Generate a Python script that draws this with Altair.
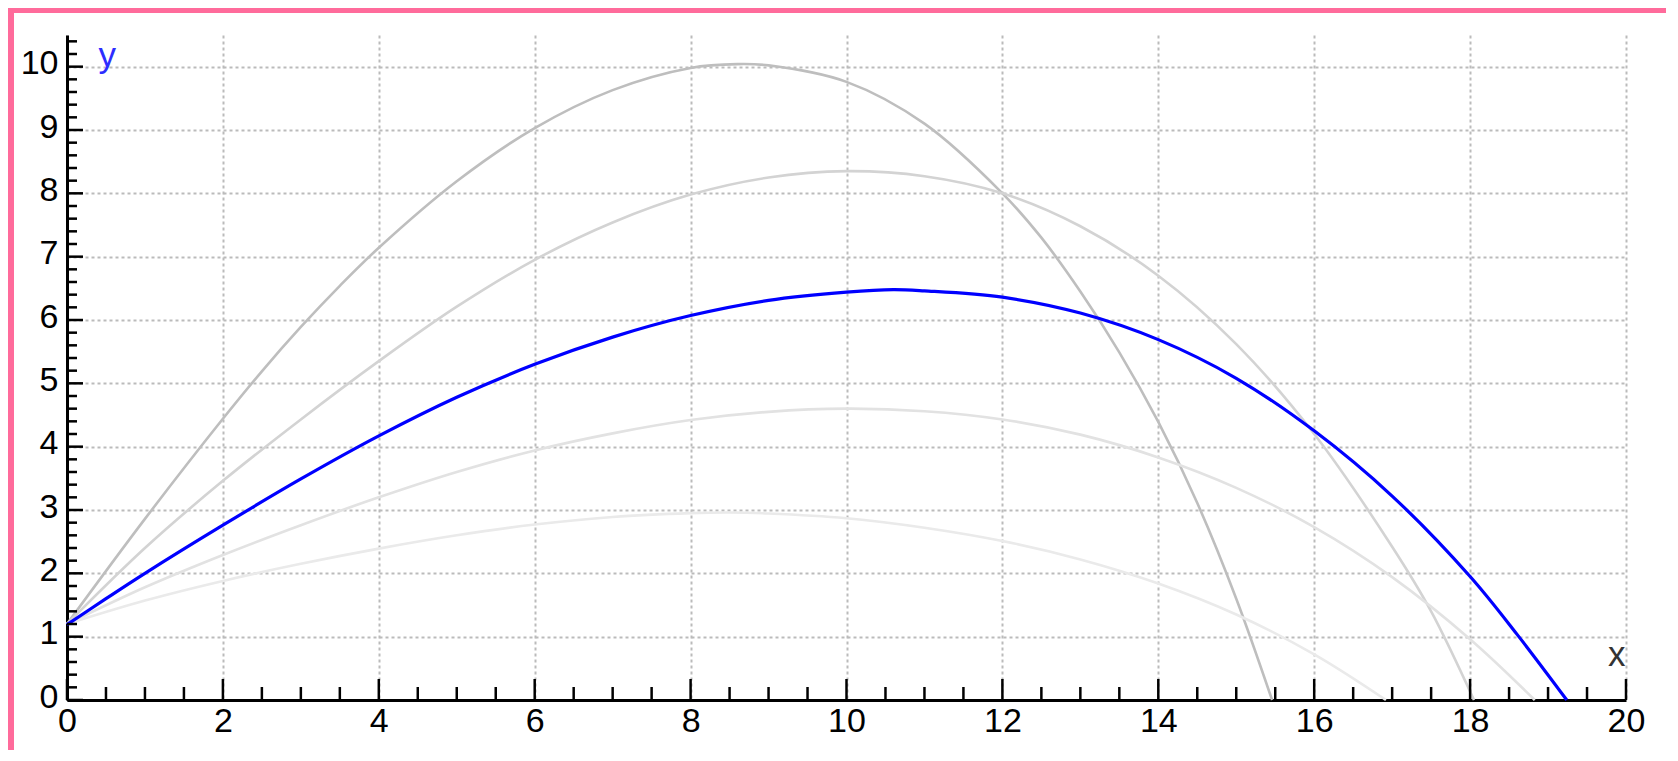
import altair as alt
import pandas as pd

# ---- trajectories ----
a_x = [0, 1, 2, 2.5, 3, 3.5, 4, 5, 6, 7, 8, 8.6, 9, 10, 11, 12, 12.5, 13, 13.5, 14, 14.5, 15, 15.46]
a_y = [1.2, 2.86, 4.44, 5.19, 5.89, 6.54, 7.14, 8.19, 9.03, 9.63, 9.98, 10.04, 10.02, 9.76, 9.1, 8.0, 7.3, 6.45, 5.49, 4.39, 3.11, 1.6, 0]

b_x = [0, 1, 2, 3, 4, 5, 6, 7, 8, 9, 10, 11, 12, 13, 14, 15, 16, 17, 17.5, 18.05]
b_y = [1.2, 2.4, 3.46, 4.43, 5.35, 6.21, 6.95, 7.54, 7.98, 8.25, 8.35, 8.27, 8.0, 7.48, 6.70, 5.62, 4.20, 2.42, 1.40, 0]

c_x = [0, 0.5, 1, 2, 3, 4, 5, 6, 7, 8, 9, 10, 10.6, 11, 12, 13, 14, 15, 16, 17, 18, 18.6, 19.24]
c_y = [1.19, 1.60, 2.0, 2.76, 3.49, 4.17, 4.78, 5.30, 5.73, 6.07, 6.31, 6.44, 6.48, 6.46, 6.36, 6.11, 5.69, 5.08, 4.25, 3.22, 1.95, 1.04, 0]

d_x = [0, 1, 2, 3, 4, 5, 6, 7, 8, 9, 10, 11, 12, 13, 14, 15, 16, 17, 18, 18.83]
d_y = [1.2, 1.78, 2.29, 2.76, 3.20, 3.60, 3.94, 4.21, 4.42, 4.55, 4.60, 4.56, 4.43, 4.19, 3.83, 3.35, 2.73, 1.94, 0.96, 0]

e_x = [0, 1, 2, 3, 4, 5, 6, 7, 8, 8.5, 9, 10, 11, 12, 13, 14, 15, 16, 16.92]
e_y = [1.2, 1.57, 1.88, 2.15, 2.39, 2.60, 2.77, 2.89, 2.95, 2.96, 2.945, 2.87, 2.72, 2.51, 2.22, 1.84, 1.35, 0.72, 0]

gray_names = ["a", "b", "d", "e"]
gray_colors = ["#bebebe", "#d3d3d3", "#e2e2e2", "#eaeaea"]

# tick values / labels
x_major = [0, 2, 4, 6, 8, 10, 12, 14, 16, 18, 20]
y_major = [0, 1, 2, 3, 4, 5, 6, 7, 8, 9, 10]
x_minor = [v / 2 for v in range(1, 40) if v % 4 != 0]
y_minor = [round(k * 0.2, 1) for k in range(1, 53) if k % 5 != 0]

rows = []
for name, xs, ys in [("a", a_x, a_y), ("b", b_x, b_y), ("d", d_x, d_y), ("e", e_x, e_y)]:
    for i, (x, y) in enumerate(zip(xs, ys)):
        rows.append({"curve": name, "x": x, "y": y, "i": i})
gray_df = pd.DataFrame(rows)
blue_df = pd.DataFrame({"x": c_x, "y": c_y, "i": list(range(len(c_x)))})

W, H = 1559, 665
FONT = "Liberation Sans"

xscale = alt.Scale(domain=[0, 20], nice=False, zero=False)
yscale = alt.Scale(domain=[0, 10.5], nice=False, zero=False)

xaxis = alt.Axis(
    values=x_major, format="d", title="x", grid=True,
    gridDash=[3, 3], gridColor="#bbbbbb", gridWidth=2,
    domainColor="black", domainWidth=3, ticks=True, tickSize=0, tickWidth=0,
    labelFont=FONT, labelFontSize=34, labelColor="black", labelPadding=4,
    labelFlush=False, labelOverlap=False, labelBaseline="top",
    titleFont=FONT, titleFontSize=35, titleFontWeight="normal", titleColor="#333333",
    titleX=W - 1, titleY=-35, titleAlign="right", titleBaseline="alphabetic", titleAnchor="end",
)
yaxis = alt.Axis(
    values=y_major, format="d", title="y", grid=True,
    gridDash=[3, 3], gridColor="#bbbbbb", gridWidth=2,
    domainColor="black", domainWidth=3, ticks=True, tickSize=0, tickWidth=0,
    labelFont=FONT, labelFontSize=34, labelColor="black", labelPadding=9,
    labelOffset=-3, labelFlush=False, labelOverlap=False, labelBaseline="middle",
    titleFont=FONT, titleFontSize=35, titleFontWeight="normal", titleColor="#2d2dff",
    titleX=31, titleY=31, titleAngle=0, titleAlign="left", titleBaseline="alphabetic",
)

grays = alt.Chart(gray_df).mark_line(interpolate="catmull-rom", strokeWidth=2.6).encode(
    x=alt.X("x:Q", scale=xscale, axis=xaxis),
    y=alt.Y("y:Q", scale=yscale, axis=yaxis),
    color=alt.Color("curve:N", scale=alt.Scale(domain=gray_names, range=gray_colors), legend=None),
    order="i:Q",
)

blue = alt.Chart(blue_df).mark_line(interpolate="catmull-rom", strokeWidth=3.2, color="#0000ff").encode(
    x=alt.X("x:Q", scale=xscale, axis=xaxis),
    y=alt.Y("y:Q", scale=yscale, axis=yaxis),
    order="i:Q",
)

xmaj = alt.Chart(pd.DataFrame({"x": x_major})).mark_rule(color="black", strokeWidth=2.5).encode(
    x=alt.X("x:Q", scale=xscale, axis=xaxis), y=alt.value(H), y2=alt.value(H - 21))
xmin = alt.Chart(pd.DataFrame({"x": x_minor})).mark_rule(color="black", strokeWidth=2.5).encode(
    x=alt.X("x:Q", scale=xscale, axis=xaxis), y=alt.value(H), y2=alt.value(H - 13))
ymaj = alt.Chart(pd.DataFrame({"y": y_major})).mark_rule(color="black", strokeWidth=2.5).encode(
    y=alt.Y("y:Q", scale=yscale, axis=yaxis), x=alt.value(0), x2=alt.value(16))
ymin = alt.Chart(pd.DataFrame({"y": y_minor})).mark_rule(color="black", strokeWidth=2.5).encode(
    y=alt.Y("y:Q", scale=yscale, axis=yaxis), x=alt.value(0), x2=alt.value(10))

PL, PT, PR, PB = 59, 27, 40, 50
frame = pd.DataFrame({"k": [0]})
pink_left = alt.Chart(frame).mark_rect(color="#ff6b9b").encode(
    x=alt.value(-PL), x2=alt.value(-PL + 6), y=alt.value(-PT), y2=alt.value(H + PB))
pink_top = alt.Chart(frame).mark_rect(color="#ff6b9b").encode(
    x=alt.value(-PL), x2=alt.value(W + PR), y=alt.value(-PT), y2=alt.value(-PT + 5))

chart = alt.layer(grays, blue, xmaj, xmin, ymaj, ymin, pink_left, pink_top).properties(
    width=W, height=H,
    padding={"left": PL, "top": PT, "right": PR, "bottom": PB},
    autosize=alt.AutoSizeParams(type="none"),
    background="white",
).configure_view(stroke=None)

chart.save("out.html", embed_options={"renderer": "svg", "actions": False})
